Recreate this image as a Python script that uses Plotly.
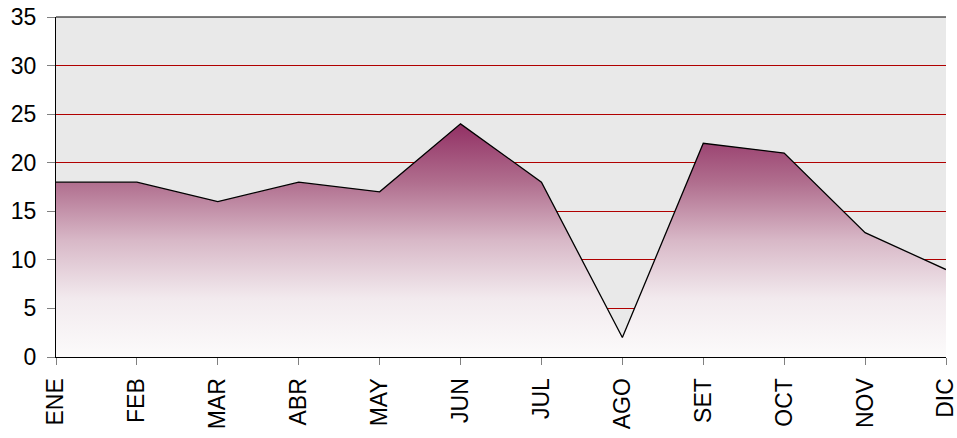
import plotly.graph_objects as go

months = ["ENE", "FEB", "MAR", "ABR", "MAY", "JUN", "JUL", "AGO", "SET", "OCT", "NOV", "DIC"]
values = [18, 18, 16, 18, 17, 24, 18, 2, 22, 21, 12.8, 9]
y_ticks = [0, 5, 10, 15, 20, 25, 30, 35]

fig = go.Figure()
fig.add_trace(go.Scatter(
    x=months, y=values, mode="lines",
    line=dict(color="black", width=1.3),
    fill="tozeroy",
    fillgradient=dict(
        type="vertical", start=0, stop=max(values),
        colorscale=[[0, "#FCFBFB"], [0.25, "#F2EAEE"], [0.5, "#D8B8C7"],
                    [0.75, "#B06E8E"], [1, "#923064"]],
    ),
    showlegend=False, hoverinfo="x+y",
))

fig.add_shape(type="line", xref="paper", yref="paper", x0=0, x1=1, y0=1, y1=1,
              line=dict(color="black", width=1))

fig.update_layout(
    width=957, height=438,
    margin=dict(l=56, r=11, t=17, b=81),
    paper_bgcolor="white",
    plot_bgcolor="#E9E9E9",
    font=dict(family="Liberation Sans, Arial, sans-serif", size=23, color="black"),
    xaxis=dict(
        type="category", range=[0, 11], tickangle=-90, automargin=False,
        showline=True, linecolor="black", linewidth=1,
        ticks="outside", ticklen=7, tickcolor="#808080",
        showgrid=False, zeroline=False, ticklabelstandoff=4,
    ),
    yaxis=dict(
        range=[0, 35], tickvals=y_ticks, automargin=False,
        showline=True, linecolor="black", linewidth=1,
        ticks="outside", ticklen=8, tickcolor="#808080",
        showgrid=True, gridcolor="#B00000", gridwidth=1,
        zeroline=False, ticklabelstandoff=6,
    ),
)

fig.write_html("out.html", config={"displayModeBar": False},
               post_script="document.body.style.margin='0';document.body.style.overflow='hidden';")
